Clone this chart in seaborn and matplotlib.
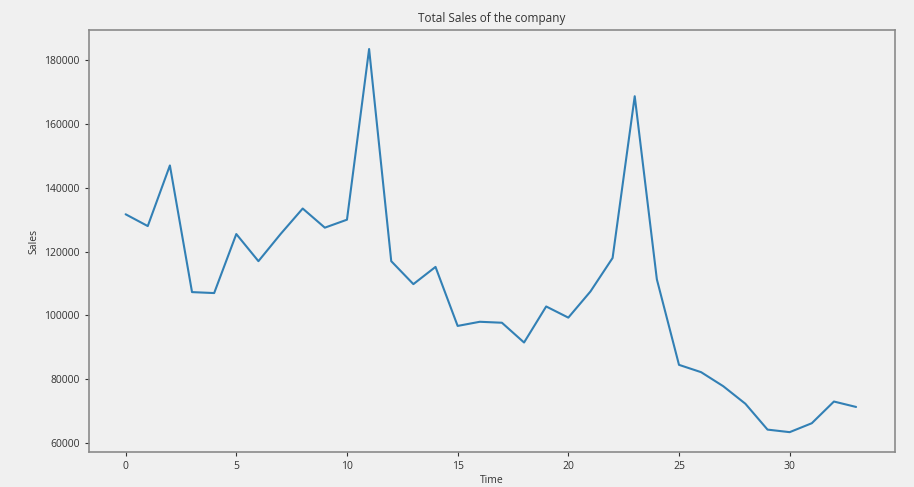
import pandas as pd
import seaborn as sns
import matplotlib.pyplot as plt

# Data
time = list(range(34))
sales = [131700, 128000, 147000, 107300, 107000, 125500, 117000, 125500, 133500, 127500,
         130000, 183500, 117000, 109800, 115200, 96700, 98000, 97700, 91500, 102800,
         99300, 107500, 118000, 168700, 111300, 84500, 82200, 77800, 72300, 64200,
         63400, 66200, 73000, 71300]
df = pd.DataFrame({'Time': time, 'Sales': sales})

# Styles
bgCol = '#f0f0f0'
lineCol = '#3280b5'
spineCol = '#8a8a8a'
txtCol = '#333333'

sns.set_style('ticks')
plt.rcParams['font.family'] = ['Open Sans', 'DejaVu Sans']

fig = plt.figure(figsize=(9.14, 4.87), dpi=100, facecolor=bgCol)
ax = fig.add_axes([0.097, 0.072, 0.882, 0.866])
ax.set_facecolor(bgCol)
sns.lineplot(x='Time', y='Sales', data=df, color=lineCol, lw=1.5, ax=ax)
ax.set_ylim(57200, 189400)
ax.set_xlim(-1.67, 34.75)
ax.set_xticks(range(0, 31, 5))
ax.set_yticks(range(60000, 180001, 20000))
ax.set_title('Total Sales of the company', fontsize=8.5, color=txtCol, pad=6)
ax.set_xlabel('Time', fontsize=7.5, color=txtCol, labelpad=2)
ax.set_ylabel('Sales', fontsize=7.5, color=txtCol, labelpad=3)
ax.tick_params(labelsize=7.5, colors=txtCol, length=3, width=0.8)
for s in ax.spines.values():
    s.set_color(spineCol)
    s.set_linewidth(1.2)

fig.savefig('out.png', dpi=100, facecolor=bgCol)
